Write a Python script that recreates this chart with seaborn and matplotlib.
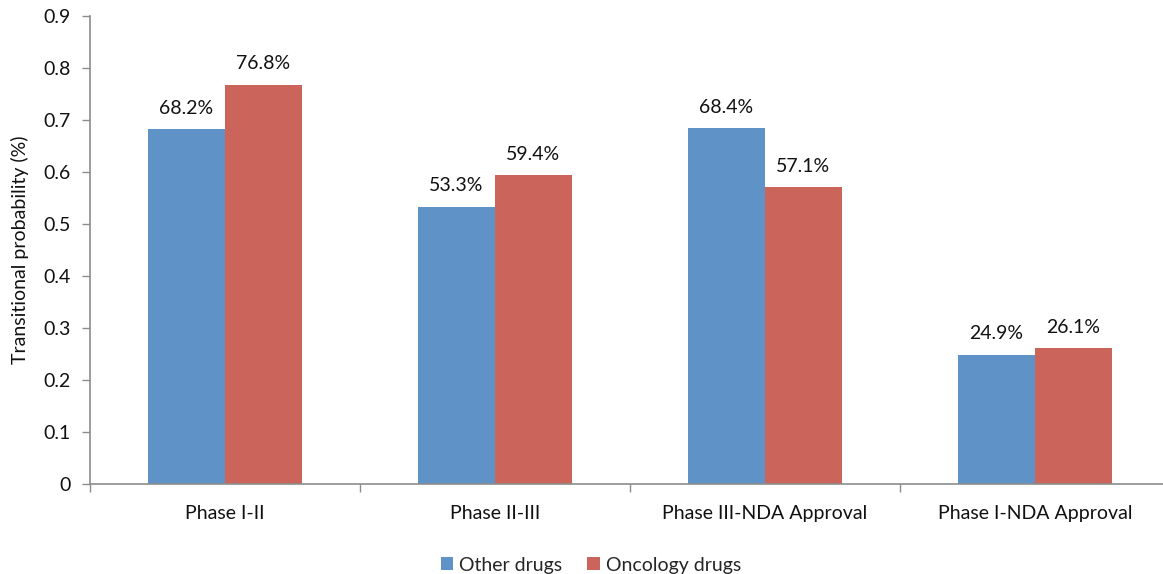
import matplotlib
matplotlib.use("Agg")
import matplotlib.pyplot as plt
from matplotlib.patches import Patch
import seaborn as sns
import pandas as pd

phases = ["Phase I-II", "Phase II-III", "Phase III-NDA Approval", "Phase I-NDA Approval"]
other_drugs = [0.682, 0.533, 0.684, 0.249]
oncology_drugs = [0.768, 0.594, 0.571, 0.261]
groups = ["Other drugs", "Oncology drugs"]
colors = ["#5F92C6", "#CB645A"]
y_ticks = [0, 0.1, 0.2, 0.3, 0.4, 0.5, 0.6, 0.7, 0.8, 0.9]

df = pd.DataFrame({
    "phase": phases * 2,
    "prob": other_drugs + oncology_drugs,
    "group": [groups[0]] * len(phases) + [groups[1]] * len(phases),
})

sns.set_style("white")
plt.rcParams["font.family"] = ["Lato", "DejaVu Sans"]

fig = plt.figure(figsize=(11.63, 5.74), dpi=100)
ax = fig.add_axes([0.0774, 0.1568, 0.9286, 0.8153])

sns.barplot(data=df, x="phase", y="prob", hue="group", palette=colors,
            saturation=1, width=0.57, ax=ax, legend=False, linewidth=0)

fs = 14
# value labels above each bar
for container in ax.containers:
    labels = [f"{b.get_height() * 100:.1f}%" for b in container]
    ax.bar_label(container, labels=labels, padding=9, fontsize=fs, color="#111111")

axis_gray = "#8C8C8C"
ax.set_xlim(-0.5, len(phases) - 0.5)
ax.set_ylim(0, 0.9)
ax.set_yticks(y_ticks)
ax.set_yticklabels([f"{t:g}" for t in y_ticks])
ax.set_xticks(range(len(phases)))
ax.set_xticks([i - 0.5 for i in range(len(phases) + 1)], minor=True)
ax.tick_params(axis="x", which="major", length=0, pad=15, labelsize=fs, labelcolor="#111111")
ax.tick_params(axis="x", which="minor", length=6, width=1, color=axis_gray, direction="out")
ax.tick_params(axis="y", length=6, width=1, color=axis_gray, direction="out",
               pad=8, labelsize=fs, labelcolor="#111111")
ax.tick_params(left=True, bottom=True, which="both")

for side in ["top", "right"]:
    ax.spines[side].set_visible(False)
for side in ["left", "bottom"]:
    ax.spines[side].set_color(axis_gray)
    ax.spines[side].set_linewidth(1.2)

ax.set_xlabel("")
ax.set_ylabel("Transitional probability (%)", fontsize=fs, color="#111111", labelpad=10)

handles = [Patch(facecolor=c, edgecolor="none", label=g) for c, g in zip(colors, groups)]
fig.legend(handles=handles, loc="lower center", bbox_to_anchor=(0.508, -0.03), ncol=2,
           frameon=False, fontsize=fs, handlelength=0.65, handleheight=0.65,
           handletextpad=0.3, columnspacing=1.3)

fig.savefig("out.png", dpi=100)
